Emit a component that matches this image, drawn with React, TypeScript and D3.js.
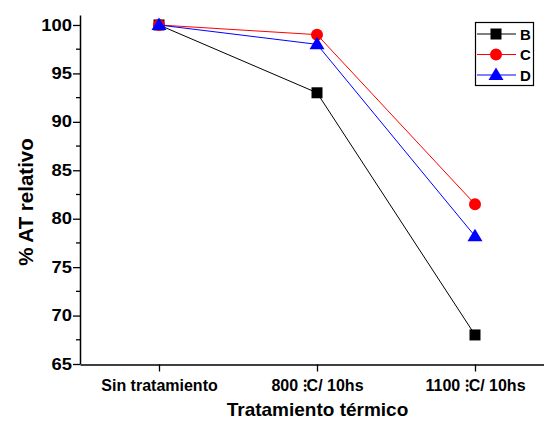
import { useEffect, useRef } from 'react'
import { select, scaleLinear, scalePoint, axisLeft, axisBottom, line, range } from 'd3'

const categories = ['Sin tratamiento', '800 \u205DC/ 10hs', '1100 \u205DC/ 10hs']
const seriesB = [100, 93, 68]
const seriesC = [100, 99, 81.5]
const seriesD = [100, 98, 78.2]
const yTicks = [65, 70, 75, 80, 85, 90, 95, 100]

const series = [
  { name: 'B', values: seriesB, color: '#000000', shape: 'square' },
  { name: 'C', values: seriesC, color: '#ff0000', shape: 'circle' },
  { name: 'D', values: seriesD, color: '#0000ff', shape: 'triangle' },
]

const W = 544
const H = 421
const FONT = '"Liberation Sans", Arial, sans-serif'

function markerPath(shape: string, x: number, y: number) {
  if (shape === 'square') return `M${x - 5.5},${y - 5.5}h11v11h-11z`
  if (shape === 'circle') return `M${x - 6},${y}a6,6 0 1,0 12,0a6,6 0 1,0 -12,0`
  return `M${x},${y - 7.5}L${x + 7.5},${y + 5}L${x - 7.5},${y + 5}Z`
}

export default function App() {
  const svgRef = useRef<SVGSVGElement | null>(null)

  useEffect(() => {
    const svg = select(svgRef.current)
    svg.selectAll('*').remove()

    const x = scalePoint<string>().domain(categories).range([80, 554]).padding(0.5)
    const y = scaleLinear().domain([65, 101.03]).range([364, 15])

    // y axis
    const yAxis = axisLeft(y).tickValues(yTicks).tickSize(7).tickSizeOuter(0).tickPadding(0)
    const gy = svg.append('g').attr('transform', 'translate(80,0)').call(yAxis as any)
    gy.select('.domain').attr('stroke', '#000').attr('stroke-width', 1.5)
    gy.selectAll('.tick line').attr('stroke-width', 1.3)
    gy.selectAll('.tick text')
      .attr('font-family', FONT)
      .attr('font-weight', 'bold')
      .attr('font-size', 16)
      .attr('transform', 'scale(1.15,1)')
      .attr('fill', '#000')

    // minor ticks
    const minor = range(67.5, 101, 5)
    svg
      .append('g')
      .selectAll('line')
      .data(minor)
      .join('line')
      .attr('x1', 76)
      .attr('x2', 80)
      .attr('y1', (d) => y(d))
      .attr('y2', (d) => y(d))
      .attr('stroke', '#000')
      .attr('stroke-width', 1.3)

    // x axis
    const xAxis = axisBottom(x).tickSize(7).tickSizeOuter(0).tickPadding(8)
    const gx = svg.append('g').attr('transform', 'translate(0,364.5)').call(xAxis as any)
    gx.select('.domain').attr('stroke', '#000').attr('stroke-width', 1.5)
    gx.selectAll('.tick line').attr('stroke-width', 1.3)
    gx.selectAll('.tick text')
      .attr('font-family', FONT)
      .attr('font-weight', 'bold')
      .attr('font-size', 16)
      .attr('fill', '#000')

    // lines + markers
    series.forEach((s) => {
      const pts = s.values.map((v, i) => [x(categories[i]) as number, y(v)] as [number, number])
      svg
        .append('path')
        .attr('d', line()(pts))
        .attr('fill', 'none')
        .attr('stroke', s.color)
        .attr('stroke-width', 1)
      svg
        .append('g')
        .selectAll('path')
        .data(pts)
        .join('path')
        .attr('d', (p) => markerPath(s.shape, p[0], p[1]))
        .attr('fill', s.color)
    })

    // legend
    const lg = svg.append('g')
    lg.append('rect')
      .attr('x', 475.5)
      .attr('y', 22.5)
      .attr('width', 58)
      .attr('height', 63)
      .attr('fill', '#fff')
      .attr('stroke', '#000')
      .attr('stroke-width', 1.2)
    series.forEach((s, i) => {
      const ly = 34 + i * 20.5
      lg.append('line')
        .attr('x1', 477)
        .attr('x2', 516)
        .attr('y1', ly)
        .attr('y2', ly)
        .attr('stroke', s.color)
        .attr('stroke-width', 1)
      lg.append('path').attr('d', markerPath(s.shape, 496, ly)).attr('fill', s.color)
      lg.append('text')
        .attr('x', 520)
        .attr('y', ly + 5.5)
        .attr('font-family', FONT)
        .attr('font-weight', 'bold')
        .attr('font-size', 15)
        .text(s.name)
    })

    // axis titles
    svg
      .append('text')
      .attr('transform', 'translate(33,202) rotate(-90)')
      .attr('text-anchor', 'middle')
      .attr('font-family', FONT)
      .attr('font-weight', 'bold')
      .attr('font-size', 20.5)
      .text('% AT relativo')
    svg
      .append('text')
      .attr('x', 317.5)
      .attr('y', 416)
      .attr('text-anchor', 'middle')
      .attr('font-family', FONT)
      .attr('font-weight', 'bold')
      .attr('font-size', 19)
      .text('Tratamiento térmico')
  }, [])

  return (
    <svg
      ref={svgRef}
      width={W}
      height={H}
      style={{ position: 'fixed', left: 0, top: 0, background: '#fff' }}
    />
  )
}
